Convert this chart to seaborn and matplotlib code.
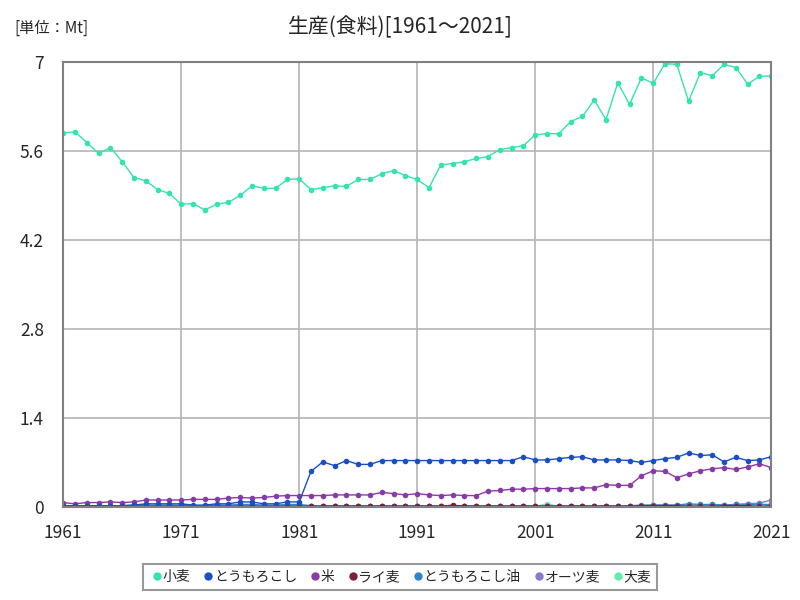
import numpy as np
import pandas as pd
import matplotlib
matplotlib.use("Agg")
import matplotlib.pyplot as plt
from matplotlib.lines import Line2D
import seaborn as sns

years = list(range(1961, 2022))

wheat = [5.88, 5.90, 5.73, 5.56, 5.65, 5.43, 5.18, 5.13, 4.99, 4.93,
         4.76, 4.77, 4.67, 4.76, 4.79, 4.90, 5.05, 5.01, 5.01, 5.15,
         5.16, 4.99, 5.02, 5.05, 5.04, 5.15, 5.15, 5.24, 5.29, 5.21,
         5.15, 5.02, 5.38, 5.40, 5.43, 5.48, 5.51, 5.62, 5.65, 5.68,
         5.85, 5.87, 5.87, 6.06, 6.14, 6.40, 6.09, 6.67, 6.33, 6.75,
         6.66, 6.97, 6.96, 6.38, 6.83, 6.78, 6.96, 6.91, 6.65, 6.77, 6.78]
corn = [0.02, 0.02, 0.02, 0.02, 0.02, 0.02, 0.03, 0.05, 0.05, 0.05,
        0.05, 0.03, 0.03, 0.05, 0.05, 0.08, 0.08, 0.05, 0.05, 0.08,
        0.08, 0.56, 0.71, 0.65, 0.73, 0.67, 0.67, 0.73, 0.73, 0.73,
        0.73, 0.73, 0.73, 0.73, 0.73, 0.73, 0.73, 0.73, 0.73, 0.79,
        0.74, 0.74, 0.76, 0.78, 0.79, 0.74, 0.74, 0.74, 0.73, 0.70,
        0.73, 0.76, 0.78, 0.85, 0.81, 0.82, 0.71, 0.78, 0.73, 0.74, 0.79]
rice = [0.07, 0.05, 0.07, 0.07, 0.08, 0.07, 0.08, 0.11, 0.11, 0.11,
        0.11, 0.12, 0.12, 0.12, 0.14, 0.15, 0.14, 0.15, 0.17, 0.18,
        0.18, 0.18, 0.18, 0.19, 0.19, 0.19, 0.19, 0.23, 0.21, 0.19,
        0.21, 0.19, 0.18, 0.19, 0.18, 0.18, 0.25, 0.26, 0.28, 0.28,
        0.29, 0.29, 0.29, 0.29, 0.30, 0.30, 0.35, 0.34, 0.34, 0.49,
        0.57, 0.56, 0.46, 0.52, 0.57, 0.60, 0.62, 0.59, 0.63, 0.68, 0.62]
rye = [0.01, 0.01, 0.01, 0.01, 0.01, 0.01, 0.01, 0.01, 0.01, 0.01,
       0.01, 0.01, 0.01, 0.01, 0.01, 0.01, 0.01, 0.01, 0.01, 0.01,
       0.01, 0.01, 0.01, 0.01, 0.01, 0.01, 0.01, 0.01, 0.01, 0.01,
       0.01, 0.01, 0.01, 0.03, 0.01, 0.01, 0.01, 0.01, 0.01, 0.01,
       0.01, 0.01, 0.01, 0.01, 0.01, 0.01, 0.01, 0.01, 0.01, 0.02,
       0.02, 0.02, 0.02, 0.01, 0.01, 0.01, 0.02, 0.02, 0.02, 0.01, 0.02]
corn_oil = [0.02, 0.02, 0.02, 0.02, 0.02, 0.02, 0.03, 0.03, 0.03, 0.03,
            0.03, 0.02, 0.02, 0.03, 0.03, 0.04, 0.04, 0.03, 0.03, 0.04,
            0.04, 0.02, 0.02, 0.02, 0.02, 0.02, 0.02, 0.02, 0.02, 0.02,
            0.02, 0.02, 0.02, 0.02, 0.02, 0.02, 0.02, 0.02, 0.02, 0.02,
            0.02, 0.02, 0.02, 0.02, 0.02, 0.02, 0.02, 0.02, 0.02, 0.03,
            0.03, 0.03, 0.03, 0.05, 0.04, 0.04, 0.03, 0.04, 0.04, 0.04, 0.04]
oats = [0.02, 0.02, 0.02, 0.02, 0.02, 0.02, 0.02, 0.02, 0.02, 0.02,
        0.02, 0.02, 0.02, 0.02, 0.02, 0.02, 0.02, 0.02, 0.02, 0.02,
        0.02, 0.02, 0.02, 0.02, 0.02, 0.02, 0.02, 0.02, 0.02, 0.02,
        0.02, 0.02, 0.02, 0.02, 0.02, 0.02, 0.02, 0.02, 0.02, 0.02,
        0.02, 0.02, 0.02, 0.02, 0.02, 0.02, 0.02, 0.02, 0.02, 0.02,
        0.03, 0.03, 0.03, 0.03, 0.03, 0.03, 0.03, 0.04, 0.05, 0.06, 0.11]
barley = [0.01, 0.01, 0.01, 0.01, 0.01, 0.01, 0.01, 0.01, 0.01, 0.01,
          0.01, 0.01, 0.01, 0.01, 0.01, 0.01, 0.01, 0.01, 0.01, 0.01,
          0.01, 0.01, 0.01, 0.01, 0.01, 0.01, 0.01, 0.01, 0.01, 0.01,
          0.01, 0.01, 0.01, 0.01, 0.01, 0.01, 0.01, 0.01, 0.01, 0.01,
          0.01, 0.05, 0.01, 0.01, 0.01, 0.01, 0.01, 0.01, 0.01, 0.01,
          0.01, 0.01, 0.01, 0.01, 0.01, 0.01, 0.01, 0.01, 0.01, 0.01, 0.01]

names = ['小麦', 'とうもろこし', '米', 'ライ麦', 'とうもろこし油', 'オーツ麦', '大麦']
series = [wheat, corn, rice, rye, corn_oil, oats, barley]
colors = ['#33e3b0', '#1a4fc4', '#8a3aa8', '#7a1f3c', '#2b86c8', '#8a78c8', '#5ef0a8']

df = pd.DataFrame({
    'year': years * len(names),
    'value': [v for s in series for v in s],
    'item': [n for n, s in zip(names, series) for _ in s],
})

sns.set_theme(style='white')
plt.rcParams['font.family'] = ['Noto Sans CJK JP', 'DejaVu Sans']

fig = plt.figure(figsize=(8, 6), dpi=100)
ax = fig.add_axes([0.079, 0.155, 0.885, 0.742])

# draw small series first so wheat/corn/rice sit on top
draw_order = [6, 5, 4, 3, 2, 1, 0]
for i in draw_order:
    sub = df[df['item'] == names[i]]
    sns.lineplot(data=sub, x='year', y='value', color=colors[i], marker='o',
                 markersize=4, markeredgewidth=0, linewidth=1, ax=ax,
                 legend=False)

ax.set_xlim(1961, 2021)
ax.set_ylim(0, 7)
ax.set_xticks(list(range(1961, 2022, 10)))
ax.set_yticks([0, 1.4, 2.8, 4.2, 5.6, 7])
ax.set_yticklabels(['0', '1.4', '2.8', '4.2', '5.6', '7'])
ax.set_xlabel('')
ax.set_ylabel('')
ax.tick_params(axis='y', labelsize=12.5, length=0, pad=14)
ax.tick_params(axis='x', labelsize=12.5, length=0, pad=12)
ax.grid(True, color='#b4b4b4', linewidth=1.2)
ax.set_axisbelow(True)
for side in ['top', 'right', 'left', 'bottom']:
    ax.spines[side].set_color('#808080')
    ax.spines[side].set_linewidth(1.5)

fig.text(0.5, 0.955, '生産(食料)[1961～2021]', ha='center', va='center', fontsize=15)
fig.text(0.018, 0.953, '[単位：Mt]', ha='left', va='center', fontsize=11)

handles = [Line2D([], [], marker='o', linestyle='', color=c, markersize=5)
           for c in colors]
leg = fig.legend(handles, names, loc='center', bbox_to_anchor=(0.5, 0.038),
                 ncol=7, frameon=True, fontsize=10, handletextpad=-0.2,
                 columnspacing=0.7, borderpad=0.45, fancybox=False,
                 edgecolor='#808080', handlelength=1.2)
leg.get_frame().set_linewidth(1.5)

fig.savefig('out.png', dpi=100)
